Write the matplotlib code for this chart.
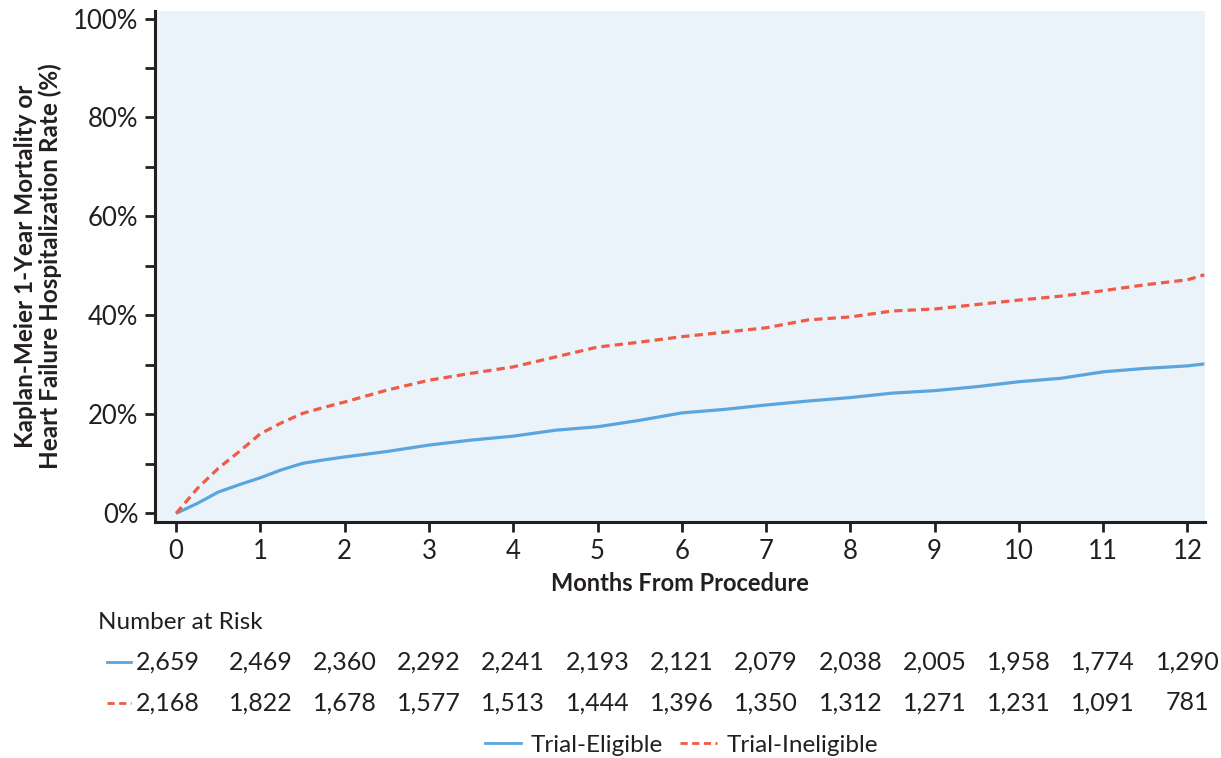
import numpy as np
import matplotlib
matplotlib.use("Agg")
import matplotlib.pyplot as plt
from matplotlib.lines import Line2D
from matplotlib.transforms import blended_transform_factory

plt.rcParams["font.family"] = ["Lato", "DejaVu Sans"]

# Kaplan-Meier cumulative event rate (%)
months = [0, 0.25, 0.5, 0.75, 1, 1.25, 1.5, 1.75, 2, 2.5, 3, 3.5, 4, 4.5, 5, 5.5,
          6, 6.5, 7, 7.5, 8, 8.5, 9, 9.5, 10, 10.5, 11, 11.5, 12, 12.2]
eligible = [0, 2.0, 4.3, 5.8, 7.2, 8.8, 10.1, 10.8, 11.4, 12.5, 13.8, 14.8, 15.6, 16.8, 17.5, 18.8,
            20.3, 21.0, 21.9, 22.7, 23.4, 24.3, 24.8, 25.6, 26.6, 27.3, 28.6, 29.3, 29.8, 30.2]
ineligible = [0, 5.0, 9.1, 12.5, 16.1, 18.3, 20.2, 21.4, 22.5, 24.9, 26.9, 28.3, 29.6, 31.6, 33.6, 34.6,
              35.7, 36.6, 37.5, 39.1, 39.7, 40.9, 41.3, 42.2, 43.1, 43.9, 45.0, 46.2, 47.2, 48.2]

risk_months = list(range(13))
risk_eligible = ["2,659", "2,469", "2,360", "2,292", "2,241", "2,193", "2,121",
                 "2,079", "2,038", "2,005", "1,958", "1,774", "1,290"]
risk_ineligible = ["2,168", "1,822", "1,678", "1,577", "1,513", "1,444", "1,396",
                   "1,350", "1,312", "1,271", "1,231", "1,091", "781"]

BLUE = "#5AA5DD"
RED = "#EF5B45"
INK = "#231F20"
DASH = (0, (2.6, 1.6))

fig = plt.figure(figsize=(12.21, 7.58), dpi=100)
ax = fig.add_axes([0.127, 0.311, 0.860, 0.675])
ax.set_facecolor("#EAF2FA")

ax.plot(months, eligible, color=BLUE, lw=2.3, solid_capstyle="butt")
ax.plot(months, ineligible, color=RED, lw=2.3, linestyle=DASH)

ax.set_xlim(-0.25, 12.21)
ax.set_ylim(-1.8, 101.6)
ax.set_xticks(range(13))
ax.set_yticks(range(0, 101, 20))
ax.set_yticklabels([f"{v}%" for v in range(0, 101, 20)])
ax.set_yticks(range(10, 100, 20), minor=True)

for s in ["top", "right"]:
    ax.spines[s].set_visible(False)
for s in ["left", "bottom"]:
    ax.spines[s].set_linewidth(2.2)
    ax.spines[s].set_color(INK)
ax.tick_params(which="both", direction="out", length=7, width=2, color=INK,
               labelsize=18.5, labelcolor=INK, pad=5)

ax.set_xlabel("Months From Procedure", fontsize=17, fontweight="bold", color=INK, labelpad=6)
ax.set_ylabel("Kaplan-Meier 1-Year Mortality or\nHeart Failure Hospitalization Rate (%)",
              fontsize=17.5, fontweight="bold", color=INK, labelpad=8, linespacing=1.05)

# number at risk table
tr = blended_transform_factory(ax.transData, fig.transFigure)
fig.text(0.080, 0.179, "Number at Risk", fontsize=17.5, color=INK, va="center", ha="left")
row_y = [0.1266, 0.0726]
for ry, vals, col, ls in [(row_y[0], risk_eligible, BLUE, "-"),
                          (row_y[1], risk_ineligible, RED, DASH)]:
    fig.add_artist(Line2D([0.088, 0.1075], [ry, ry], color=col, lw=2, linestyle=ls,
                          transform=fig.transFigure))
    for m, v in zip(risk_months, vals):
        if m == 0:
            fig.text(0.1115, ry, v, fontsize=18, color=INK, ha="left", va="center")
        else:
            fig.text(m, ry, v, transform=tr, fontsize=18, color=INK, ha="center", va="center")

handles = [Line2D([], [], color=BLUE, lw=2),
           Line2D([], [], color=RED, lw=2, linestyle=DASH)]
fig.legend(handles, ["Trial-Eligible", "Trial-Ineligible"], loc="center",
           bbox_to_anchor=(0.558, 0.017), ncol=2, frameon=False, fontsize=17.5,
           handlelength=1.5, handletextpad=0.4, columnspacing=0.7, labelcolor=INK)

fig.savefig("out.png", dpi=100)
